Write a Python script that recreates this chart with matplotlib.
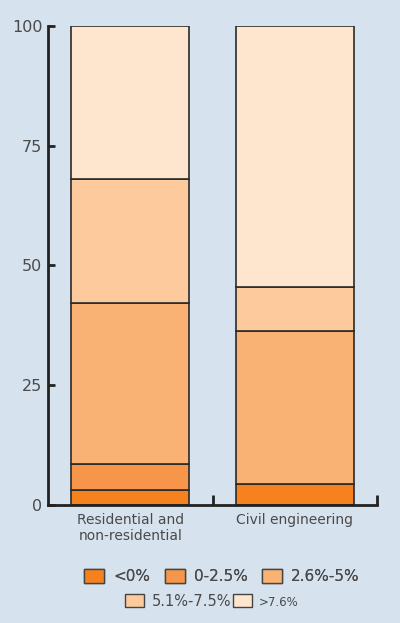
import numpy as np
import matplotlib.pyplot as plt
from matplotlib.patches import Patch

categories = ["Residential and\nnon-residential", "Civil engineering"]
bands = ["<0%", "0-2.5%", "2.6%-5%", "5.1%-7.5%", ">7.6%"]
share_lt0 = [3.1, 4.4]
share_0_25 = [5.5, 0.0]
share_26_5 = [33.6, 31.9]
share_51_75 = [25.8, 9.1]
share_gt76 = [32.0, 54.6]
yticks = [0, 25, 50, 75, 100]

colors = ["#F5821F", "#F7964A", "#FAB274", "#FCCA9C", "#FEE5CD"]
bg = "#D6E2EE"
txt = "#4a4a4a"

fig = plt.figure(figsize=(4, 6.23), dpi=100, facecolor=bg)
ax = fig.add_axes([0.12, 0.1894, 0.8225, 0.769])
ax.set_facecolor(bg)

x = np.arange(len(categories))
series = [share_lt0, share_0_25, share_26_5, share_51_75, share_gt76]
bottom = np.zeros(len(categories))
for vals, col in zip(series, colors):
    ax.bar(x, vals, width=0.72, bottom=bottom, color=col,
           edgecolor="#2a2a2a", linewidth=1.2)
    bottom += np.array(vals)

ax.set_xlim(-0.5, 1.5)
ax.set_ylim(0, 100)
ax.set_yticks(yticks)
ax.set_xticks(x)
ax.set_xticklabels(categories, fontsize=10, color=txt, linespacing=1.15)
ax.set_xticks([0.5, 1.5], minor=True)
ax.tick_params(axis="x", which="major", length=0, pad=6)
ax.tick_params(axis="x", which="minor", direction="in", length=7,
               width=2, color="#222222")
ax.tick_params(axis="y", direction="in", length=5, width=2,
               color="#222222", labelsize=11.5, labelcolor=txt, pad=4)

for s in ["top", "right"]:
    ax.spines[s].set_visible(False)
for s in ["left", "bottom"]:
    ax.spines[s].set_linewidth(2)
    ax.spines[s].set_color("#222222")

handles = [Patch(facecolor=c, edgecolor="#444444", linewidth=1) for c in colors]
leg1 = fig.legend(handles[:3], bands[:3], loc="center", ncol=3,
                  bbox_to_anchor=(0.555, 0.074), frameon=False,
                  fontsize=11, labelcolor=txt, handlelength=1.3,
                  handleheight=1.0, columnspacing=0.95, handletextpad=0.6)
leg2 = fig.legend(handles[3:], bands[3:], loc="center", ncol=2,
                  bbox_to_anchor=(0.53, 0.035), frameon=False,
                  fontsize=10.5, labelcolor=txt, handlelength=1.3,
                  handleheight=1.0, columnspacing=0.1, handletextpad=0.5)
fig.add_artist(leg1)
leg2.get_texts()[1].set_fontsize(8.5)

fig.savefig("out.png", dpi=100, facecolor=bg)
